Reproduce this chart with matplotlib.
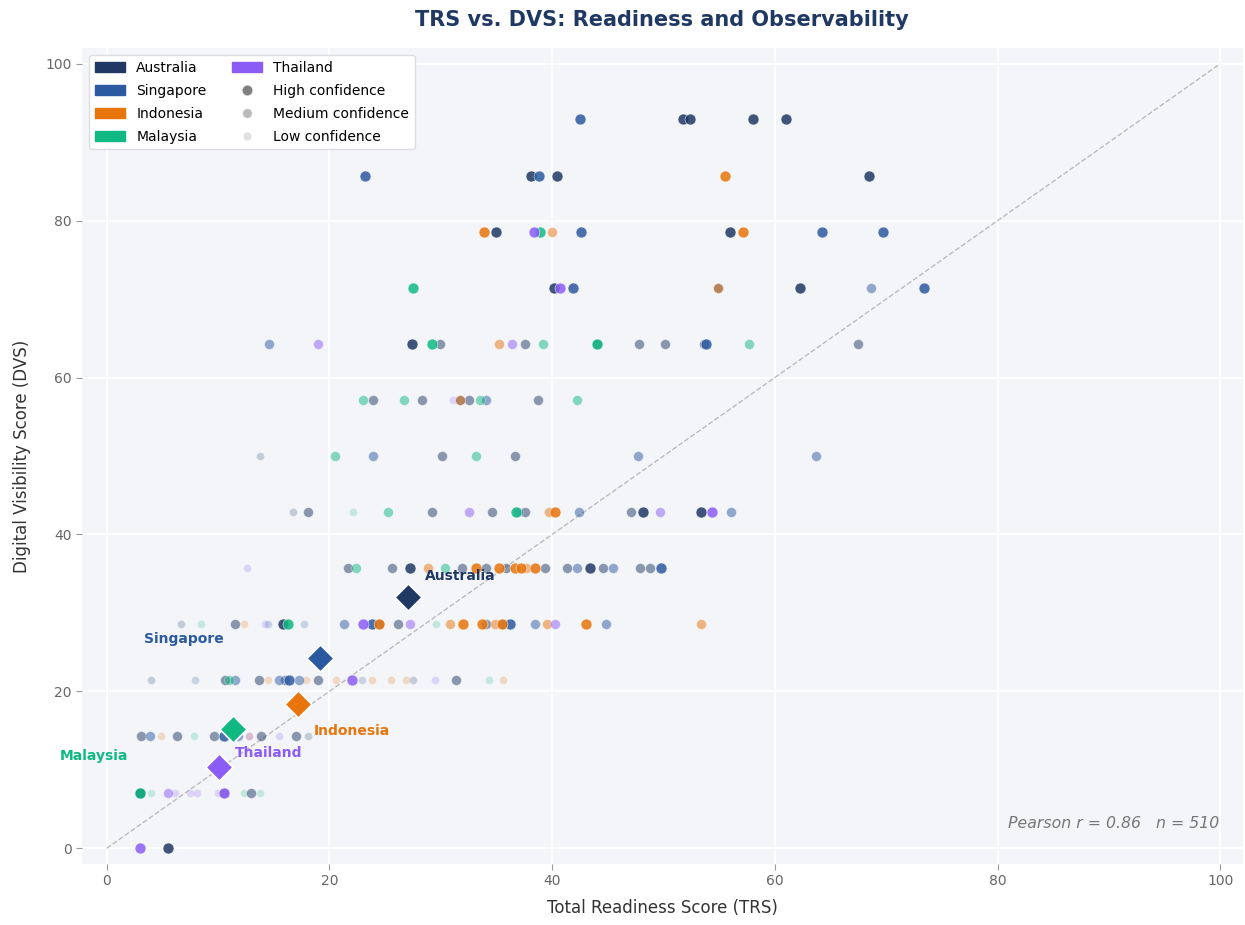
import matplotlib.pyplot as plt
from matplotlib.patches import Patch
from matplotlib.lines import Line2D

countries = ['Australia', 'Singapore', 'Indonesia', 'Malaysia', 'Thailand']
colors = {'Australia': '#1f3864', 'Singapore': '#2c5aa0', 'Indonesia': '#e8740c',
          'Malaysia': '#10b981', 'Thailand': '#8b5cf6'}

# individual points: TRS, DVS, confidence (H / M / L)
aus_trs = [51.8, 52.4, 58.0, 61.0, 38.1, 40.4, 68.5, 35.0, 56.0, 40.2, 62.3, 54.9,
           27.4, 29.9, 37.6, 44.0, 47.8, 50.1, 67.5, 53.6, 23.9, 28.3, 32.5, 38.7, 31.7,
           36.7, 30.1, 13.8, 18.1, 29.2, 34.6, 37.6, 48.2, 53.4, 47.1, 16.7,
           21.7, 25.6, 31.9, 34.1, 35.9, 39.4, 41.3, 43.4, 44.6, 47.9, 48.8, 27.2,
           11.5, 15.8, 24.5, 26.2, 34.1, 35.6, 6.7,
           10.6, 13.7, 16.0, 19.0, 27.5, 31.4, 4.0,
           3.1, 6.3, 9.6, 13.9, 17.0, 18.1, 3.0, 13.0, 10.5, 5.5]
aus_dvs = [92.9, 92.9, 92.9, 92.9, 85.7, 85.7, 85.7, 78.6, 78.6, 71.4, 71.4, 71.4,
           64.3, 64.3, 64.3, 64.3, 64.3, 64.3, 64.3, 64.3, 57.1, 57.1, 57.1, 57.1, 57.1,
           50.0, 50.0, 50.0, 42.9, 42.9, 42.9, 42.9, 42.9, 42.9, 42.9, 42.9,
           35.7, 35.7, 35.7, 35.7, 35.7, 35.7, 35.7, 35.7, 35.7, 35.7, 35.7, 35.7,
           28.6, 28.6, 28.6, 28.6, 28.6, 28.6, 28.6,
           21.4, 21.4, 21.4, 21.4, 21.4, 21.4, 21.4,
           14.3, 14.3, 14.3, 14.3, 14.3, 14.3, 7.1, 7.1, 7.1, 0.0]
aus_conf = ['H', 'H', 'H', 'H', 'H', 'H', 'H', 'H', 'H', 'H', 'H', 'M',
            'H', 'M', 'M', 'M', 'M', 'M', 'M', 'M', 'M', 'M', 'M', 'M', 'M',
            'M', 'M', 'L', 'M', 'M', 'M', 'M', 'H', 'H', 'M', 'L',
            'M', 'M', 'M', 'M', 'M', 'M', 'M', 'H', 'M', 'M', 'M', 'H',
            'M', 'H', 'M', 'M', 'M', 'M', 'L',
            'M', 'M', 'M', 'M', 'L', 'M', 'L',
            'M', 'M', 'M', 'M', 'M', 'L', 'H', 'M', 'M', 'H']

sgp_trs = [42.5, 23.2, 38.8, 42.6, 64.2, 69.7, 41.9, 73.4, 68.6, 14.6, 53.8, 34.1,
           23.9, 47.7, 63.7, 42.4, 56.1, 36.9, 42.2, 45.5, 49.8,
           23.8, 36.2, 38.5, 44.8, 21.3, 17.7, 14.5,
           15.5, 16.4, 17.3, 11.5, 22.9, 7.9, 3.9, 10.5, 11.8]
sgp_dvs = [92.9, 85.7, 85.7, 78.6, 78.6, 78.6, 71.4, 71.4, 71.4, 64.3, 64.3, 57.1,
           50.0, 50.0, 50.0, 42.9, 42.9, 42.9, 35.7, 35.7, 35.7,
           28.6, 28.6, 28.6, 28.6, 28.6, 28.6, 28.6,
           21.4, 21.4, 21.4, 21.4, 21.4, 21.4, 14.3, 14.3, 14.3]
sgp_conf = ['H', 'H', 'H', 'H', 'H', 'H', 'H', 'H', 'M', 'M', 'H', 'M',
            'M', 'M', 'M', 'M', 'M', 'M', 'M', 'M', 'H',
            'H', 'H', 'M', 'M', 'M', 'L', 'L',
            'M', 'H', 'M', 'M', 'L', 'L', 'M', 'H', 'M']

idn_trs = [55.5, 33.9, 57.1, 40.0, 54.9, 35.2, 31.7, 40.3, 39.7,
           28.9, 33.2, 35.2, 36.7, 37.2, 37.7, 38.5,
           12.3, 30.8, 32.0, 33.7, 34.9, 35.5, 39.5, 43.0, 53.4, 24.5,
           14.5, 17.9, 20.6, 23.8, 25.5, 26.9, 35.6, 12.8, 4.9]
idn_dvs = [85.7, 78.6, 78.6, 78.6, 71.4, 64.3, 57.1, 42.9, 42.9,
           35.7, 35.7, 35.7, 35.7, 35.7, 35.7, 35.7,
           28.6, 28.6, 28.6, 28.6, 28.6, 28.6, 28.6, 28.6, 28.6, 28.6,
           21.4, 21.4, 21.4, 21.4, 21.4, 21.4, 21.4, 14.3, 14.3]
idn_conf = ['H', 'H', 'H', 'M', 'M', 'M', 'M', 'H', 'M',
            'M', 'H', 'H', 'H', 'H', 'M', 'H',
            'L', 'M', 'H', 'H', 'M', 'H', 'M', 'H', 'M', 'H',
            'L', 'L', 'L', 'L', 'L', 'L', 'L', 'L', 'L']

mys_trs = [38.9, 27.5, 29.2, 39.2, 44.0, 57.7, 23.0, 26.7, 33.5, 42.2, 20.5, 33.2,
           22.1, 25.3, 36.8, 22.4, 30.4, 8.5, 16.3, 29.6, 11.0, 34.3, 7.8,
           3.0, 4.0, 12.3, 13.8]
mys_dvs = [78.6, 71.4, 64.3, 64.3, 64.3, 64.3, 57.1, 57.1, 57.1, 57.1, 50.0, 50.0,
           42.9, 42.9, 42.9, 35.7, 35.7, 28.6, 28.6, 28.6, 21.4, 21.4, 14.3,
           7.1, 7.1, 7.1, 7.1]
mys_conf = ['H', 'H', 'H', 'M', 'H', 'M', 'M', 'M', 'M', 'M', 'M', 'M',
            'L', 'M', 'H', 'M', 'M', 'L', 'H', 'L', 'M', 'L', 'L',
            'H', 'L', 'L', 'L']

tha_trs = [38.4, 40.7, 19.0, 36.4, 31.1, 32.5, 49.7, 54.4, 12.6,
           23.0, 27.2, 40.3, 14.2, 22.0, 29.5, 15.5, 12.8,
           5.5, 6.1, 7.5, 8.1, 10.5, 10.0, 3.0]
tha_dvs = [78.6, 71.4, 64.3, 64.3, 57.1, 42.9, 42.9, 42.9, 35.7,
           28.6, 28.6, 28.6, 28.6, 21.4, 21.4, 14.3, 14.3,
           7.1, 7.1, 7.1, 7.1, 7.1, 7.1, 0.0]
tha_conf = ['H', 'H', 'M', 'M', 'L', 'M', 'M', 'H', 'L',
            'H', 'M', 'M', 'L', 'H', 'L', 'L', 'L',
            'M', 'L', 'L', 'L', 'H', 'L', 'H']

# country means
centroid_trs = [27.1, 19.2, 17.2, 11.3, 10.1]
centroid_dvs = [32.0, 24.2, 18.4, 15.2, 10.3]

points = {
    'Australia': (aus_trs, aus_dvs, aus_conf),
    'Singapore': (sgp_trs, sgp_dvs, sgp_conf),
    'Indonesia': (idn_trs, idn_dvs, idn_conf),
    'Malaysia': (mys_trs, mys_dvs, mys_conf),
    'Thailand': (tha_trs, tha_dvs, tha_conf),
}

conf_style = {'L': (0.22, 32), 'M': (0.5, 50), 'H': (0.85, 62)}
label_offset = {'Australia': (16, 21), 'Singapore': (-176, 19), 'Indonesia': (16, -27),
                'Malaysia': (-173, -27), 'Thailand': (16, 14)}

fig = plt.figure(figsize=(12.45, 9.25), dpi=100)
ax = fig.add_axes([0.066, 0.066, 0.932, 0.882])
ax.set_facecolor('#f3f5f9')
ax.grid(True, color='white', linewidth=1.3)
ax.set_axisbelow(True)
for s in ax.spines.values():
    s.set_visible(False)

ax.plot([0, 100], [0, 100], linestyle='--', color='#bbbbbb', linewidth=1, zorder=1)

for conf in ['L', 'M', 'H']:
    alpha, size = conf_style[conf]
    for c in countries:
        t, d, cf = points[c]
        xs = [t[i] for i in range(len(t)) if cf[i] == conf]
        ys = [d[i] for i in range(len(t)) if cf[i] == conf]
        ax.scatter(xs, ys, s=size, color=colors[c], alpha=alpha,
                   edgecolors='white', linewidths=0.4, zorder=2)

for i, c in enumerate(countries):
    ax.scatter(centroid_trs[i], centroid_dvs[i], marker='D', s=190, color=colors[c],
               edgecolors='white', linewidths=1.2, zorder=5)
    ax.annotate(c, (centroid_trs[i], centroid_dvs[i]), xytext=label_offset[c],
                textcoords='offset pixels', ha='left', va='center',
                fontsize=10, fontweight='bold', color=colors[c], zorder=6)

ax.set_xlim(-2.2, 102)
ax.set_ylim(-2, 102)
ax.set_xticks([0, 20, 40, 60, 80, 100])
ax.set_yticks([0, 20, 40, 60, 80, 100])
ax.tick_params(colors='#999999', labelcolor='#666666', labelsize=10, length=4)

ax.set_xlabel('Total Readiness Score (TRS)', fontsize=12, color='#333333', labelpad=8)
ax.set_ylabel('Digital Visibility Score (DVS)', fontsize=12, color='#333333', labelpad=10)
ax.set_title('TRS vs. DVS: Readiness and Observability', fontsize=15, fontweight='bold',
             color='#1f3864', pad=16)

ax.text(0.98, 0.04, 'Pearson r = 0.86   n = 510', transform=ax.transAxes,
        ha='right', va='bottom', fontsize=11.3, style='italic', color='#777777')

handles = [Patch(color=colors[c], label=c) for c in countries]
handles += [
    Line2D([], [], marker='o', linestyle='', color='#555555', alpha=0.75, markersize=8,
           markeredgecolor='white', label='High confidence'),
    Line2D([], [], marker='o', linestyle='', color='#555555', alpha=0.4, markersize=7,
           markeredgecolor='white', label='Medium confidence'),
    Line2D([], [], marker='o', linestyle='', color='#555555', alpha=0.18, markersize=6,
           markeredgecolor='white', label='Low confidence'),
]
leg = ax.legend(handles=handles, loc='upper left', ncol=2, fontsize=10,
                frameon=True, facecolor='white', edgecolor='#dddddd', framealpha=1,
                columnspacing=1.8, handlelength=2.2, labelspacing=0.65)

fig.savefig('out.png', dpi=100)
